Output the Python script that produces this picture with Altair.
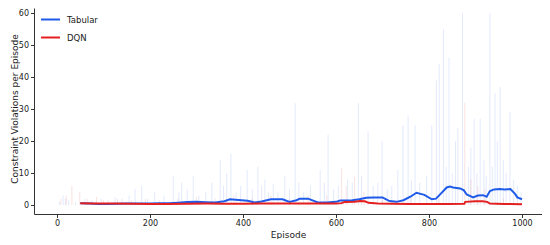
import altair as alt
import pandas as pd

# Moving-average curves (episode, value)
tab_ep = [50, 70, 90, 110, 130, 150, 170, 200, 220, 240, 260, 280, 300, 320, 340, 360, 372, 390, 410, 425, 440, 460, 485, 500, 515, 522, 540, 561, 580, 600, 609, 635, 650, 665, 680, 700, 715, 730, 745, 760, 773, 790, 806, 815, 825, 838, 845, 852, 867, 875, 881, 895, 905, 916, 924, 931, 940, 952, 963, 975, 985, 990, 1000]
tab_ma = [0.6, 0.45, 0.3, 0.35, 0.4, 0.45, 0.45, 0.5, 0.6, 0.6, 0.75, 0.95, 1.0, 0.9, 0.8, 1.2, 1.8, 1.6, 1.35, 0.8, 1.1, 1.8, 1.8, 1.0, 1.5, 2.0, 2.0, 0.8, 0.8, 1.0, 1.4, 1.5, 1.8, 2.3, 2.4, 2.4, 1.25, 1.0, 1.5, 2.6, 3.85, 3.2, 1.8, 2.0, 3.5, 5.5, 5.8, 5.5, 5.2, 4.6, 3.3, 2.4, 3.0, 3.1, 2.6, 4.4, 4.9, 5.0, 4.9, 5.0, 3.5, 2.4, 1.8]

dqn_ep = [50, 80, 120, 160, 200, 240, 280, 320, 360, 400, 440, 480, 520, 560, 600, 612, 618, 640, 652, 662, 670, 690, 720, 760, 800, 840, 876, 878, 900, 915, 925, 931, 960, 1000]
dqn_ma = [0.6, 0.5, 0.45, 0.4, 0.3, 0.35, 0.4, 0.45, 0.4, 0.4, 0.45, 0.5, 0.45, 0.45, 0.5, 0.6, 0.95, 1.05, 1.3, 1.2, 0.7, 0.5, 0.4, 0.35, 0.35, 0.35, 0.4, 1.0, 1.2, 1.2, 1.0, 0.45, 0.35, 0.25]

# Raw per-episode spikes (episode, value)
tab_raw_ep = [5, 13, 18, 25, 40, 60, 75, 95, 110, 125, 140, 155, 168, 182, 195, 210, 230, 250, 262, 268, 280, 293, 305, 320, 333, 351, 358, 365, 374, 385, 395, 409, 420, 432, 440, 447, 455, 465, 475, 490, 500, 512, 520, 530, 545, 566, 575, 583, 595, 605, 625, 635, 648, 655, 669, 680, 690, 699, 710, 720, 733, 744, 755, 762, 770, 780, 795, 806, 816, 822, 831, 837, 843, 850, 857, 862, 872, 885, 890, 897, 903, 910, 918, 923, 931, 936, 942, 947, 953, 960, 966, 974, 982, 990, 998]
tab_raw = [1, 3, 2, 1.5, 1, 2, 1.5, 2, 1.5, 2.5, 2, 3, 5, 6, 2, 4, 3, 9, 4, 7, 5, 9, 3, 4, 7, 14, 6, 10, 16, 4, 6, 11, 5, 12, 6, 8, 4, 6.5, 4, 9, 5, 32, 7, 4, 6, 11, 7, 22, 5, 6, 8, 7, 32, 9, 23, 6, 7, 20, 5, 6, 11, 25, 28, 8, 25, 7, 9, 25, 39, 44, 55, 12, 46, 10, 20, 24, 60, 12, 18, 27, 10, 27, 14, 9, 60, 12, 35, 20, 37, 14, 10, 29, 8, 6, 4]

dqn_raw_ep = [8, 20, 32, 49, 65, 85, 100, 130, 160, 190, 220, 260, 300, 340, 380, 420, 460, 500, 540, 580, 612, 622, 640, 660, 700, 760, 820, 877, 890, 905, 920, 960]
dqn_raw = [2, 3, 6, 4, 2, 2.5, 1.5, 2, 1.5, 2, 1.5, 2, 2.5, 2, 3, 2, 3, 2, 3, 3, 11.5, 6, 9, 4, 2, 2, 2, 32, 8, 6, 5, 2]

x_ticks = [0, 200, 400, 600, 800, 1000]

BLUE = "#1f5be8"
RED = "#e3201f"

ma = pd.concat([
    pd.DataFrame({"Episode": tab_ep, "Value": tab_ma, "Method": "Tabular"}),
    pd.DataFrame({"Episode": dqn_ep, "Value": dqn_ma, "Method": "DQN"}),
])
raw = pd.concat([
    pd.DataFrame({"Episode": tab_raw_ep, "Value": tab_raw, "Method": "Tabular"}),
    pd.DataFrame({"Episode": dqn_raw_ep, "Value": dqn_raw, "Method": "DQN"}),
])
raw["Base"] = 0

xscale = alt.Scale(domain=[-49.5, 1043], nice=False, zero=False)
yscale = alt.Scale(domain=[-2.8, 61.66], nice=False, zero=False)
cscale = alt.Scale(domain=["Tabular", "DQN"], range=[BLUE, RED])

xaxis = alt.Axis(values=x_ticks, title="Episode", titlePadding=3, format="d")
yaxis = alt.Axis(tickCount=7, title="Constraint Violations per Episode",
                 format="d", titleX=-15, titleY=100.5, titleBaseline="bottom")

legend = alt.Legend(title=None, orient="none", legendX=6, legendY=1,
                    symbolType="stroke", symbolStrokeWidth=2, symbolOpacity=1,
                    symbolSize=360, labelFontSize=8.5,
                    labelFont="DejaVu Sans", labelColor="#222222",
                    rowPadding=3, labelOffset=6)

ma_layer = alt.Chart(ma).mark_line(strokeWidth=2).encode(
    x=alt.X("Episode:Q", scale=xscale, axis=xaxis),
    y=alt.Y("Value:Q", scale=yscale, axis=yaxis),
    color=alt.Color("Method:N", scale=cscale, sort=["Tabular", "DQN"], legend=legend),
)

raw_layer = alt.Chart(raw).mark_rule(strokeWidth=1, opacity=0.13).encode(
    x=alt.X("Episode:Q", scale=xscale, axis=xaxis),
    y=alt.Y("Value:Q", scale=yscale, axis=yaxis),
    y2=alt.Y2("Base:Q"),
    color=alt.Color("Method:N", scale=cscale, sort=["Tabular", "DQN"], legend=legend),
)

chart = alt.layer(raw_layer, ma_layer).properties(
    width=508, height=206,
    autosize=alt.AutoSizeParams(type="none"),
    padding={"left": 26, "top": 0, "right": 0, "bottom": 25},
).configure_view(stroke=None).configure_axis(
    grid=False, labelOverlap=False, labelBound=False, labelFlush=False,
    labelFontSize=8, titleFontSize=9, titleFontWeight="normal",
    tickSize=3.5, labelPadding=2,
    domainColor="#333333", tickColor="#333333", labelColor="#222222",
    titleColor="#222222", labelFont="DejaVu Sans", titleFont="DejaVu Sans",
)

chart.save("out.html", embed_options={"renderer": "svg", "actions": False})
